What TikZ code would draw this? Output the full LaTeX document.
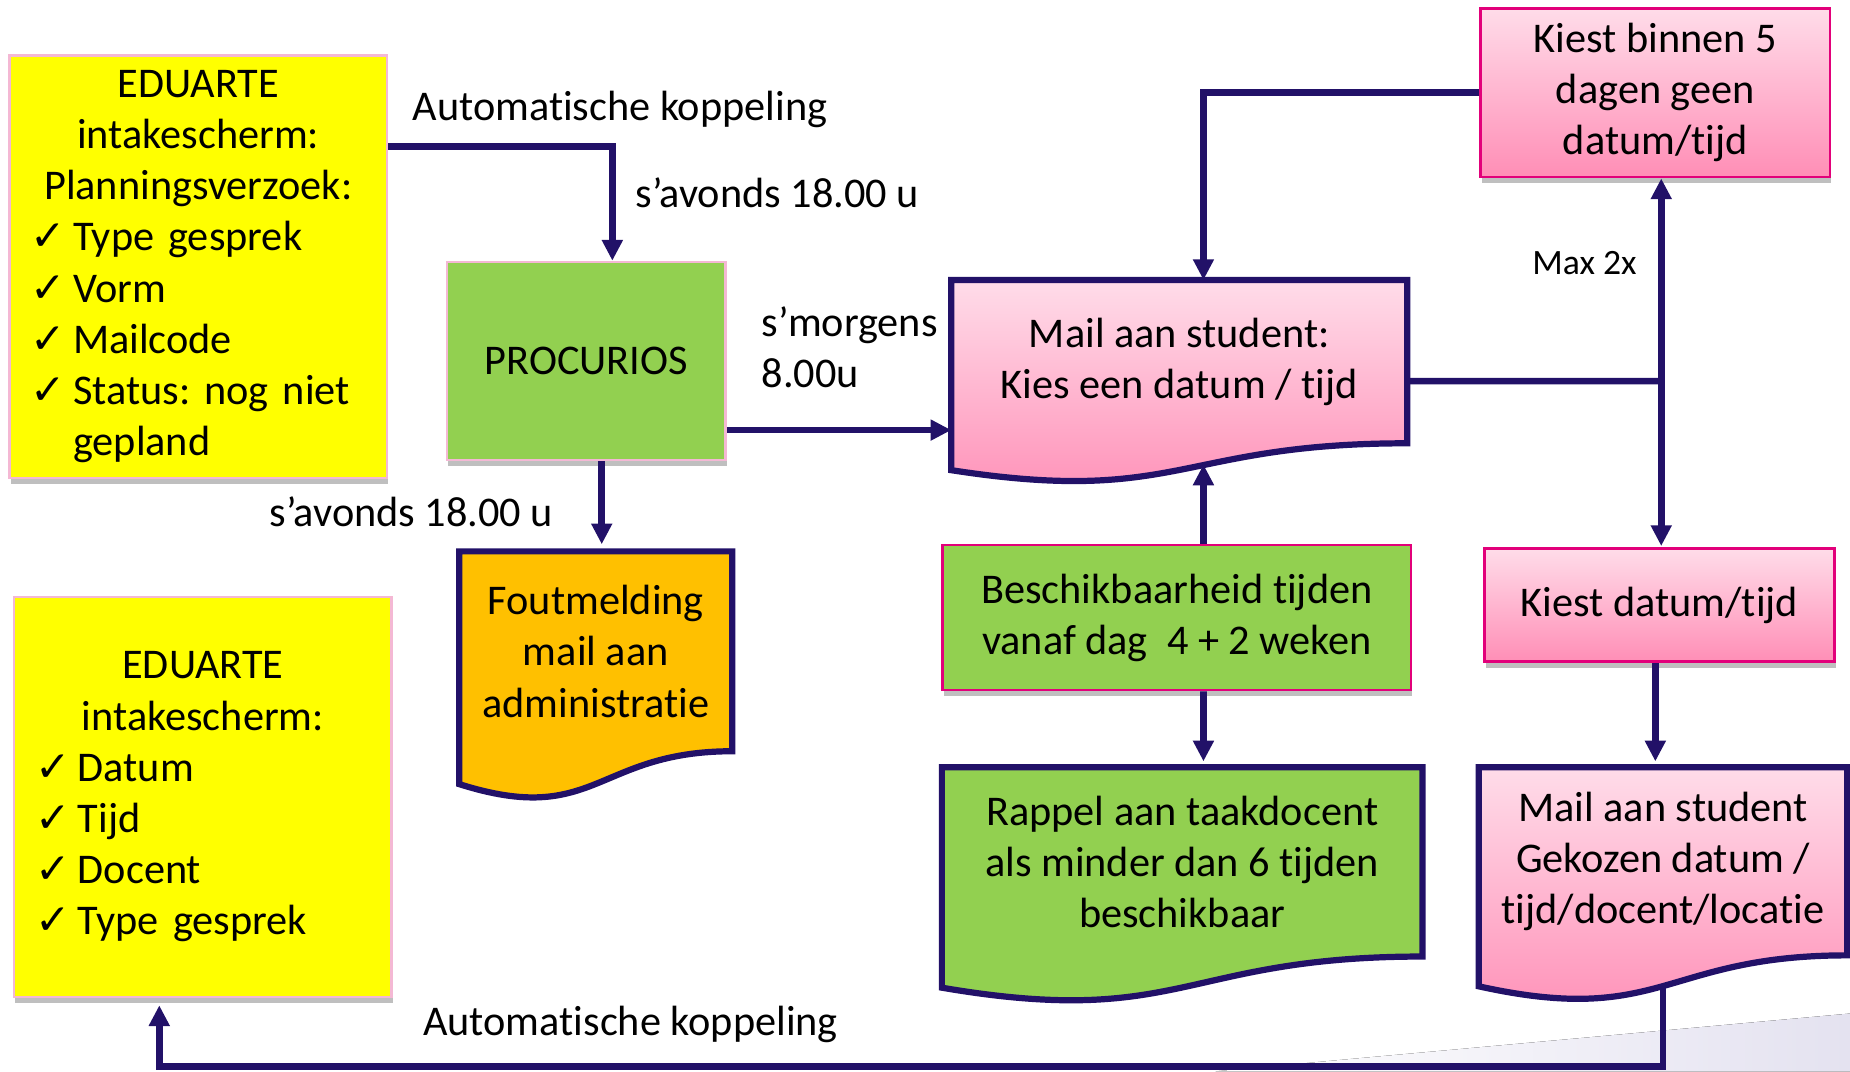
\documentclass[tikz,border=0pt]{standalone}
\usepackage{fontspec}
\setmainfont[Ligatures=NoCommon]{Carlito}
\newfontfamily\symfont{DejaVu Sans}
\usetikzlibrary{arrows.meta,calc,shadows,backgrounds}
\frenchspacing

\definecolor{navy}{RGB}{34,17,104}
\definecolor{pinktop}{RGB}{255,220,233}
\definecolor{pinkbot}{RGB}{255,142,182}
\definecolor{crimson}{RGB}{226,0,122}
\definecolor{procgreen}{RGB}{146,208,80}
\definecolor{eduyellow}{RGB}{255,255,0}
\definecolor{foutorange}{RGB}{255,192,0}
\definecolor{softpink}{RGB}{244,184,212}
\definecolor{bandgray}{RGB}{228,226,240}

% flowchart document outline with wavy bottom
\newcommand{\docpath}[1]{(#1.north west) -- (#1.north east) -- (#1.south east)
  .. controls (#1.south) and ($(#1.north)!1.381!(#1.south)$)
  .. ($(#1.north west)!1.1646!(#1.south west)$) -- cycle}
\newcommand{\chk}[1]{\makebox[\linewidth][l]{\hspace{0.18cm}\makebox[0.36cm][l]{\symfont ✓}#1}}
\newcommand{\ind}[1]{\makebox[\linewidth][l]{\hspace{0.54cm}#1}}

\begin{document}
\begin{tikzpicture}[font=\fontsize{10.2}{12.35}\selectfont,
    box/.style={draw, inner sep=0pt, align=center},
    shade box/.style={drop shadow={shadow xshift=0.3pt, shadow yshift=-1.5pt, opacity=0.25, fill=black}},
    yellowbox/.style={box, fill=eduyellow, draw=softpink, line width=0.6pt, shade box},
    greenbox/.style={box, fill=procgreen, line width=0.6pt, shade box},
    pinkbox/.style={box, top color=pinktop, bottom color=pinkbot, draw=crimson, line width=0.7pt, shade box},
    docnode/.style={inner sep=0pt, align=center},
    doc/.style={draw=navy, line width=1.5pt},
    conn/.style={navy, line width=1.6pt, -{Triangle[length=5pt,width=4.8pt]}},
    lbl/.style={inner sep=0pt, anchor=west}]
    \useasboundingbox (0,0) rectangle (15.68,-9.08);

    \node[yellowbox, minimum width=3.2cm, minimum height=3.58cm, text width=3.2cm] (edu1) at (1.68,-2.26)
        {EDUARTE\\ intakescherm:\\ Planningsverzoek:\\ \chk{Type gesprek}\\ \chk{Vorm}\\ \chk{Mailcode}\\ \chk{Status: nog niet}\\ \ind{gepland}};
    \node[yellowbox, minimum width=3.2cm, minimum height=3.39cm, text width=3.2cm] (edu2) at (1.72,-6.755)
        {EDUARTE\\ intakescherm:\\ \chk{Datum}\\ \chk{Tijd}\\ \chk{Docent}\\ \chk{Type gesprek}};
    \node[greenbox, draw=softpink, minimum width=2.36cm, minimum height=1.68cm] (proc) at (4.97,-3.06) {PROCURIOS};
    \node[docnode, minimum width=2.30cm, minimum height=1.68cm] (fout) at (5.05,-5.52) {Foutmelding\\ mail aan\\ administratie};
    \node[docnode, minimum width=3.85cm, minimum height=1.37cm] (mail1) at (9.995,-3.065) {Mail aan student:\\ Kies een datum / tijd};
    \node[pinkbox, minimum width=2.96cm, minimum height=1.43cm] (kb) at (14.03,-0.785) {Kiest binnen 5\\ dagen geen\\ datum/tijd};
    \node[greenbox, draw=crimson, minimum width=3.97cm, minimum height=1.23cm] (besch) at (9.975,-5.235) {Beschikbaarheid tijden\\ vanaf dag\ \ 4 + 2 weken};
    \node[pinkbox, minimum width=2.97cm, minimum height=0.96cm] (kd) at (14.065,-5.13) {Kiest datum/tijd};
    \node[docnode, minimum width=4.06cm, minimum height=1.59cm] (rappel) at (10.02,-7.305) {Rappel aan taakdocent\\ als minder dan 6 tijden\\ beschikbaar};
    \node[docnode, minimum width=3.11cm, minimum height=1.58cm] (mail2) at (14.095,-7.30) {Mail aan student\\ Gekozen datum /\\ tijd/docent/locatie};

    \begin{pgfonlayer}{background}
        \fill[left color=white, right color=bandgray] (10.3,-9.08) -- (15.68,-8.59) -- (15.68,-9.08) -- cycle;
        \draw[doc, fill=foutorange] \docpath{fout};
        \draw[doc, top color=pinktop, bottom color=pinkbot] \docpath{mail1};
        \draw[doc, fill=procgreen] \docpath{rappel};
        \draw[doc, top color=pinktop, bottom color=pinkbot] \docpath{mail2};
    \end{pgfonlayer}

    \node[lbl] (autotop) at (3.49,-0.93) {Automatische koppeling};
    \node[lbl] (avond1) at (5.38,-1.63) {s’avonds 18.00 u};
    \node[lbl, align=left] (morgen) at (6.45,-2.945) {s’morgens\\ 8.00u};
    \node[lbl] (avond2) at (2.28,-4.34) {s’avonds 18.00 u};
    \node[inner sep=0pt, font=\fontsize{8.6}{10}\selectfont] (max) at (13.43,-2.23) {Max 2x};
    \node[lbl] (autobot) at (3.58,-8.68) {Automatische koppeling};

    \coordinate (split) at (14.08,-3.23);
    \coordinate (kieswave) at ([xshift=0.205cm,yshift=-0.18cm]mail1.south);
    \coordinate (gekwave) at ([yshift=-0.25cm]mail2.south);
    \coordinate (floor) at (0,-9.04);

    \draw[conn] ([yshift=1.02cm]edu1.east) -| ([xshift=0.22cm]proc.north);
    \draw[conn] ([xshift=0.13cm]proc.south) -- ([xshift=0.05cm,yshift=0.06cm]fout.north);
    \draw[conn] ([yshift=-0.585cm]proc.east) -- ([yshift=-0.585cm]proc.east -| mail1.west);
    \draw[conn] (kb.west) -| ([xshift=0.205cm]mail1.north);
    \draw[navy, line width=1.6pt] ([yshift=-0.165cm]mail1.east) -- (split);
    \draw[conn] (split) -- (split |- kb.south);
    \draw[conn] (split) -- ([yshift=0.01cm]split |- kd.north);
    \draw[conn] ([xshift=0.225cm]besch.north) -- (kieswave);
    \draw[conn] ([xshift=0.225cm]besch.south) -- ([xshift=0.18cm,yshift=0.05cm]rappel.north);
    \draw[conn] ([xshift=-0.035cm]kd.south) -- ([xshift=-0.065cm,yshift=0.05cm]mail2.north);
    \draw[conn] (gekwave) -- (gekwave |- floor) -| ([xshift=-0.37cm,yshift=-0.06cm]edu2.south);
\end{tikzpicture}
\end{document}
